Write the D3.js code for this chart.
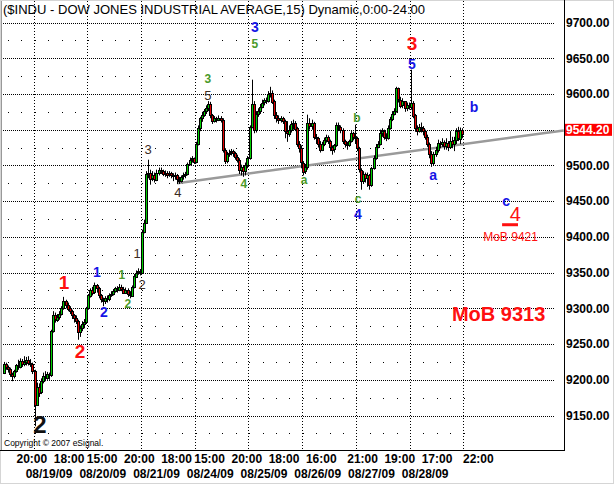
<!DOCTYPE html>
<html><head><meta charset="utf-8">
<script src="https://cdn.jsdelivr.net/npm/d3@7"></script>
<style>
body{margin:0;background:#fff}
svg{display:block}
text{font-family:Arial,"Liberation Sans",sans-serif}
</style>
</head><body>
<svg id="chart" width="614" height="484"></svg>
<script>
// ---------- DATA (15-min bars, $INDU) ----------
const firstOpen = 9210;
const closes = [
 // 08/18 (partial)
 9222,9218,9215,9208,9205,9212,9220,9218,9226,9222,9225,9228,9224,9222,9212,
 // 08/19
 9165,9190,9182,9198,9205,9203,9208,9206,9268,9290,9284,9288,9292,9300,9310,9305,9300,9296,9290,9286,9282,9266,9272,9278,9281,9300,
 // 08/20
 9318,9326,9322,9332,9328,9318,9312,9310,9314,9312,9318,9320,9324,9328,9326,9330,9327,9322,9326,9320,9318,9330,9345,9350,9352,9350,
 // 08/21
 9407,9420,9488,9490,9482,9486,9480,9490,9494,9492,9488,9490,9487,9489,9486,9484,9486,9480,9478,9484,9486,9488,9502,9508,9510,9505,
 // 08/24
 9530,9552,9566,9570,9576,9580,9586,9570,9562,9566,9564,9567,9564,9522,9506,9516,9518,9520,9517,9512,9508,9494,9498,9492,9500,9510,
 // 08/25
 9554,9586,9550,9572,9576,9582,9588,9591,9590,9600,9602,9590,9570,9566,9563,9566,9562,9548,9545,9550,9558,9560,9552,9530,9524,9504,
 // 08/26
 9492,9498,9560,9556,9560,9540,9538,9530,9522,9530,9536,9540,9534,9526,9522,9528,9556,9554,9550,9534,9530,9528,9534,9545,9540,9538,
 // 08/27
 9524,9494,9478,9488,9482,9486,9472,9496,9510,9526,9530,9545,9548,9540,9538,9552,9565,9572,9576,9608,9592,9584,9590,9580,9584,9582,
 // 08/28
 9588,9570,9552,9548,9554,9552,9548,9540,9530,9516,9504,9516,9522,9532,9530,9533,9528,9532,9526,9534,9530,9536,9548,9538,9550,9544.2
];
const highs = [
 9225,9224,9220,9217,9210,9214,9222,9228,9230,9229,9233,9232,9233,9229,9224,
 9214,9196,9195,9202,9210,9212,9211,9210,9270,9296,9294,9292,9296,9303,9316,9312,9308,9303,9298,9292,9290,9284,9276,9282,9285,9302,
 9320,9328,9330,9336,9334,9330,9320,9315,9317,9318,9321,9324,9327,9330,9331,9334,9333,9330,9329,9328,9324,9332,9348,9353,9356,9355,
 9410,9424,9492,9508,9494,9492,9490,9494,9497,9497,9494,9493,9492,9492,9491,9489,9490,9488,9484,9486,9490,9491,9504,9511,9513,9511,
 9533,9556,9568,9575,9579,9584,9590,9589,9572,9569,9568,9570,9569,9566,9524,9519,9522,9523,9522,9519,9515,9510,9501,9500,9504,9513,
 9556,9620,9590,9576,9580,9586,9592,9594,9595,9604,9610,9605,9592,9574,9570,9569,9568,9564,9562,9556,9562,9564,9562,9554,9534,9528,
 9506,9502,9571,9566,9564,9561,9544,9540,9534,9533,9539,9543,9542,9536,9528,9530,9560,9560,9556,9552,9536,9533,9536,9548,9547,9557,
 9540,9526,9496,9492,9490,9490,9488,9498,9514,9530,9534,9550,9552,9550,9545,9556,9568,9576,9580,9610,9609,9596,9594,9590,9588,9588,
 9634,9590,9572,9556,9558,9560,9555,9550,9543,9532,9520,9519,9526,9536,9534,9538,9535,9538,9534,9548,9540,9540,9552,9554,9553,9552
];
const lows = [
 9208,9214,9210,9204,9198,9202,9210,9214,9216,9218,9219,9220,9220,9218,9208,
 9135,9170,9176,9180,9195,9198,9200,9200,9204,9266,9280,9281,9284,9290,9298,9300,9296,9292,9285,9280,9278,9256,9260,9268,9272,9278,
 9298,9315,9318,9320,9322,9314,9308,9303,9306,9308,9310,9316,9318,9322,9322,9324,9324,9320,9320,9316,9314,9316,9328,9343,9347,9346,
 9348,9405,9418,9482,9473,9478,9476,9478,9486,9488,9485,9484,9482,9484,9482,9478,9480,9474,9474,9476,9480,9482,9486,9500,9504,9502,
 9503,9528,9548,9561,9568,9572,9576,9566,9558,9560,9560,9562,9560,9518,9502,9503,9512,9514,9512,9508,9504,9488,9486,9484,9486,9496,
 9508,9552,9545,9546,9568,9572,9580,9584,9586,9588,9595,9586,9565,9560,9558,9560,9558,9538,9533,9540,9546,9550,9548,9526,9518,9496,
 9486,9488,9494,9550,9550,9536,9530,9525,9518,9520,9527,9532,9530,9520,9515,9518,9526,9548,9545,9530,9525,9522,9526,9532,9535,9530,
 9520,9490,9466,9474,9476,9470,9466,9470,9494,9508,9524,9528,9540,9536,9534,9536,9550,9562,9570,9574,9588,9580,9580,9575,9576,9578,
 9578,9566,9547,9542,9546,9546,9542,9536,9526,9510,9498,9500,9512,9518,9524,9526,9522,9522,9520,9524,9524,9520,9530,9534,9530,9538
];
const lastPrice = 9544.20;
const priceTicks = [9150,9200,9250,9300,9350,9400,9450,9500,9550,9600,9650,9700];
const halfLevels = [9125,9175,9225,9275,9325,9375,9425,9475,9525,9575,9625,9675];
const dayBoundaryBars = [14.5,40.5,66.5,92.5,118.5,144.5,170.5,196.5,222.5];
const timeLabels = ["20:00","18:00","15:00","20:00","18:00","15:00","20:00","18:00","16:00","21:00","19:00","17:00","22:00"];
const timeLabelBars = [7,25,41,59,77,93,111,129,147,167,185,203,223];
const dateLabels = ["08/19/09","08/20/09","08/21/09","08/24/09","08/25/09","08/26/09","08/27/09","08/28/09"];
const dateLabelBars = [22,48,74,100,126,152,178,204];
const trendBars = [84, 271];
const trendPrices = [9475, 9549];
// wave labels: text, bar, price, style kind
const waveText   = ["2","1","2","1","2","1","2","1","2","3","4","3","5","3","5","4","a","b","c","4","3","5","a","b","c","4"];
const waveBars   = [17.6,29.3,37,45.2,48.6,57.3,60.2,64.6,67,69.9,84.4,98.9,98.9,121.6,121.6,116.3,145.4,171,171.5,171.5,197.6,197.6,207.8,227.6,243.2,247.6];
const wavePrices = [9137,9336,9240,9351,9295,9347,9307,9377,9333,9522,9463,9622,9598,9694,9670,9475,9480,9567,9454,9432,9671,9642,9487,9582,9450,9432];
const waveKinds  = ["k","r","r","b","b","g","g","d","d","d","d","g","d","b","g","g","g","g","g","b","r","b","b","b","b","r4"];
const mobTexts  = ["MoB 9421","MoB 9313"];
const mobBars   = [245.3,239.5];
const mobPrices = [9400,9292];
const targetLineBars = [241.2,248.9];
const targetLinePrice = 9417;

// ---------- SCALES ----------
const W = 614, H = 484, plotR = 564, plotB = 450;
const x = d3.scaleLinear().domain([-1.707, 271.15]).range([0, plotR]);
const y = d3.scaleLinear().domain([9700 - 427.5/0.71455, 9700 + 22.5/0.71455]).range([plotB, 0]);

const svg = d3.select("#chart");

// outer dotted frame
svg.append("rect").attr("x",0.5).attr("y",0.5).attr("width",W-1).attr("height",H-1)
  .attr("fill","none").attr("stroke","#aaa").attr("stroke-dasharray","1,1");

const g = svg.append("g");

// horizontal dense grid
g.selectAll("line.hg").data(priceTicks).join("line")
  .attr("x1",1).attr("x2",554)
  .attr("y1",d=>Math.round(y(d))+0.5).attr("y2",d=>Math.round(y(d))+0.5)
  .attr("stroke","#000").attr("stroke-dasharray","1,1");

// sparse dots on half levels
const dotXs = d3.range(8, 466, 13.4);
halfLevels.forEach(p=>{
  g.selectAll(null).data(dotXs).join("rect")
   .attr("x",d=>Math.round(d)).attr("y",Math.round(y(p))).attr("width",1).attr("height",1).attr("fill","#000");
});

// vertical grid
g.selectAll("line.vg").data(dayBoundaryBars).join("line")
  .attr("x1",d=>Math.round(x(d))+0.5).attr("x2",d=>Math.round(x(d))+0.5)
  .attr("y1",1).attr("y2",plotB)
  .attr("stroke","#000").attr("stroke-dasharray","1,2");

// left gray edge
g.append("line").attr("x1",1.5).attr("x2",1.5).attr("y1",1).attr("y2",plotB).attr("stroke","#999");

// trendline
g.append("line")
  .attr("x1",x(trendBars[0])).attr("y1",y(trendPrices[0]))
  .attr("x2",x(trendBars[1])).attr("y2",y(trendPrices[1]))
  .attr("stroke","#9a9a9a").attr("stroke-width",2.5);

// candles
const bars = closes.map((c,i)=>{
  const o = i===0 ? firstOpen : closes[i-1];
  return {i,o,c,h:Math.max(highs[i],o,c),l:Math.min(lows[i],o,c)};
});
const cg = g.append("g");
cg.selectAll("line").data(bars).join("line")
  .attr("x1",d=>Math.round(x(d.i))+0.5).attr("x2",d=>Math.round(x(d.i))+0.5)
  .attr("y1",d=>y(d.h)).attr("y2",d=>y(d.l))
  .attr("stroke","#000").attr("stroke-width",1);
cg.selectAll("rect").data(bars).join("rect")
  .attr("x",d=>Math.round(x(d.i))-0.5)
  .attr("y",d=>Math.round(y(Math.max(d.o,d.c)))+0.5)
  .attr("width",2)
  .attr("height",d=>Math.max(1,Math.round(Math.abs(y(d.o)-y(d.c)))))
  .attr("fill",d=>d.c>=d.o?"#00d000":"#e00000")
  .attr("stroke","#000").attr("stroke-width",1);

// axes frame
g.append("line").attr("x1",plotR+0.5).attr("x2",plotR+0.5).attr("y1",0).attr("y2",plotB+1).attr("stroke","#000");
g.append("line").attr("x1",0).attr("x2",plotR+1).attr("y1",plotB+0.5).attr("y2",plotB+0.5).attr("stroke","#000");

// right axis labels
const yAxis = d3.axisRight(y).tickValues(priceTicks).tickFormat(d3.format(".2f")).tickSize(0).tickPadding(2);
const ya = svg.append("g").attr("transform",`translate(${plotR},0)`).call(yAxis);
ya.select(".domain").remove();
ya.selectAll("text").attr("font-size",12).attr("font-weight","bold").attr("fill","#000")
  .attr("font-family","Arial, 'Liberation Sans', sans-serif");

// last price box
const ly = y(lastPrice) - 4;
svg.append("rect").attr("x",plotR+1).attr("y",ly-6).attr("width",47).attr("height",12).attr("fill","#ff0000");
svg.append("text").attr("x",plotR+2).attr("y",ly).attr("dy","0.36em")
  .attr("font-size",12).attr("font-weight","bold").attr("fill","#fff").text(d3.format(".2f")(lastPrice));

// bottom labels
svg.selectAll("text.tl").data(timeLabels).join("text")
  .attr("x",(d,i)=>x(timeLabelBars[i])-1.5).attr("y",463)
  .attr("font-size",12).attr("font-weight","bold").attr("fill","#000").text(d=>d);
svg.selectAll("text.dl").data(dateLabels).join("text")
  .attr("x",(d,i)=>x(dateLabelBars[i])).attr("y",478).attr("text-anchor","middle")
  .attr("font-size",12).attr("font-weight","bold").attr("fill","#000").text(d=>d);

// title
svg.append("text").attr("x",3).attr("y",14).attr("font-size",13).attr("fill","#000")
  .attr("textLength",422).attr("lengthAdjust","spacingAndGlyphs")
  .text("($INDU - DOW JONES INDUSTRIAL AVERAGE,15) Dynamic,0:00-24:00");

// copyright
svg.append("text").attr("x",4).attr("y",446).attr("font-size",8.5).attr("fill","#000")
  .text("Copyright \u00a9 2007 eSignal.");

// wave labels
const kindStyle = {
  k:{c:"#111",s:24,w:"bold"},
  r:{c:"#ff1010",s:19,w:"bold"},
  r4:{c:"#ff1010",s:20,w:"normal"},
  b:{c:"#1414e6",s:14,w:"bold"},
  g:{c:"#4a9a2a",s:12,w:"bold"},
  d:{c:"#3a2a1e",s:13,w:"normal"}
};
svg.selectAll("text.wl").data(waveText).join("text")
  .attr("x",(d,i)=>x(waveBars[i])).attr("y",(d,i)=>y(wavePrices[i]))
  .attr("dy","0.36em").attr("text-anchor","middle")
  .attr("fill",(d,i)=>kindStyle[waveKinds[i]].c)
  .attr("font-size",(d,i)=>kindStyle[waveKinds[i]].s)
  .attr("font-weight",(d,i)=>kindStyle[waveKinds[i]].w)
  .text(d=>d);

// target underline
svg.append("line").attr("x1",x(targetLineBars[0])).attr("x2",x(targetLineBars[1]))
  .attr("y1",y(targetLinePrice)).attr("y2",y(targetLinePrice))
  .attr("stroke","#ff1010").attr("stroke-width",3);

// MoB texts
svg.selectAll("text.mob").data(mobTexts).join("text")
  .attr("x",(d,i)=>x(mobBars[i])).attr("y",(d,i)=>y(mobPrices[i]))
  .attr("dy","0.36em").attr("text-anchor","middle").attr("fill","#ff1010")
  .attr("font-size",(d,i)=>i===0?12:20).attr("font-weight",(d,i)=>i===0?"normal":"bold")
  .text(d=>d);
</script>
</body></html>
